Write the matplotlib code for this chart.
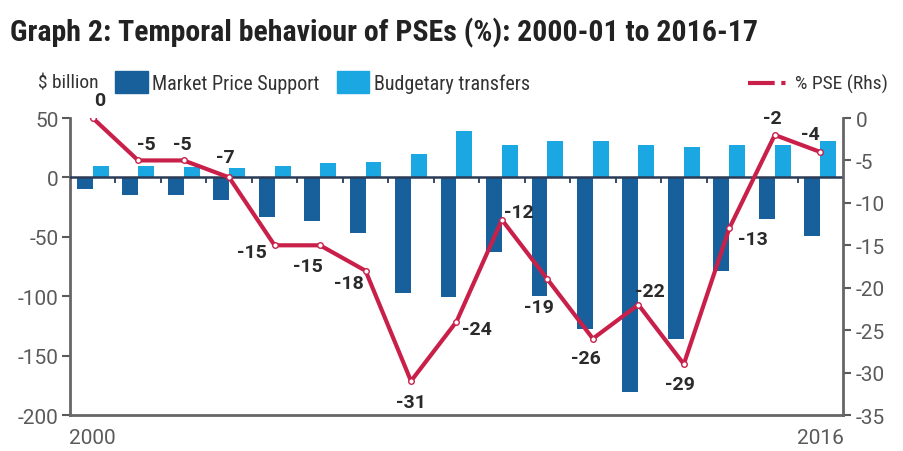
import numpy as np
import matplotlib
matplotlib.use("Agg")
import matplotlib.pyplot as plt
from matplotlib import font_manager
from matplotlib.patches import Rectangle
from matplotlib.lines import Line2D

# data
years = list(range(2000, 2017))
market_price_support = [-10, -15, -15, -19, -33, -37, -47, -97, -101, -63,
                        -100, -128, -181, -136, -79, -35, -49]
budgetary_transfers = [10, 10, 9, 8, 10, 12, 13, 20, 39, 27,
                       31, 31, 27, 26, 27, 27, 31]
pse_pct = [0, -5, -5, -7, -15, -15, -18, -31, -24, -12,
           -19, -26, -22, -29, -13, -2, -4]

# label offsets in points (position only, not data)
label_offsets = [(5, 13), (6, 12), (-1, 12), (-3, 15), (-16, -5), (-9, -15),
                 (-12, -9), (0, -15), (15, -5), (12, 6), (-6, -20), (-5, -14),
                 (8, 10), (-3, -14), (17, -8), (-2, 12), (-7, 13)]

names = {f.name for f in font_manager.fontManager.ttflist}
prefs = ["Roboto Condensed", "Liberation Sans Narrow", "Open Sans Condensed", "Roboto"]
narrow = next((p for p in prefs if p in names), "DejaVu Sans")
wide = "Roboto" if "Roboto" in names else "DejaVu Sans"
plt.rcParams["font.family"] = [narrow, "DejaVu Sans"]
plt.rcParams["axes.unicode_minus"] = False

mps_color = "#17609c"
bt_color = "#1ba7e1"
pse_color = "#c9204a"
gray = "#5a5a5a"
zero_color = "#2b3a55"

fig = plt.figure(figsize=(9.04, 4.52), dpi=100)
ax = fig.add_axes([0.0774, 0.0796, 0.8551, 0.6571])

x = np.arange(len(years))
w = 0.35
ax.bar(x - w / 2, market_price_support, w, color=mps_color, zorder=2)
ax.bar(x + w / 2, budgetary_transfers, w, color=bt_color, zorder=2)

# zero line with small ticks between years
ax.axhline(0, color=zero_color, lw=1.8, zorder=3)
ax.vlines(x[:-1] + 0.5, -5, 0, color=zero_color, lw=1.3, zorder=3)

ax.set_xlim(-0.5, len(years) - 0.5)
ax.set_ylim(-200, 50)
ax.set_yticks(np.arange(-200, 51, 50))
ax.tick_params(axis="y", colors=gray, labelsize=15, length=6, width=1.5, pad=2)
ax.set_xticks([0, len(years) - 1])
ax.set_xticklabels([str(years[0]), str(years[-1])])
ax.tick_params(axis="x", length=0, colors=gray, labelsize=15, pad=9)
for lbl in ax.get_xticklabels() + ax.get_yticklabels():
    lbl.set_family([wide, "DejaVu Sans"])
for s in ["top", "right"]:
    ax.spines[s].set_visible(False)
for s in ["left", "bottom"]:
    ax.spines[s].set_color("#666666")
    ax.spines[s].set_linewidth(2)

ax2 = ax.twinx()
ax2.set_ylim(-35, 0)
ax2.set_yticks(np.arange(-35, 1, 5))
ax2.tick_params(axis="y", colors=gray, labelsize=15, length=6, width=1.5, pad=3)
for lbl in ax2.get_yticklabels():
    lbl.set_family([wide, "DejaVu Sans"])
for s in ["top", "left", "bottom"]:
    ax2.spines[s].set_visible(False)
ax2.spines["right"].set_color("#666666")
ax2.spines["right"].set_linewidth(2)

ax2.plot(x, pse_pct, color=pse_color, lw=3, marker="o", ms=4,
         mfc="white", mec=pse_color, mew=1, zorder=3)
for xi, v, off in zip(x, pse_pct, label_offsets):
    ax2.annotate(str(v), (xi, v), xytext=off, textcoords="offset points",
                 ha="center", va="center", fontsize=14, fontweight="bold",
                 color="#2a2a2a", family=[wide, "DejaVu Sans"])

# title
fig.text(0.011, 0.928, "Graph 2: Temporal behaviour of PSEs (%): 2000-01 to 2016-17",
         fontsize=21.5, fontweight="bold", color="#222222", va="center", ha="left")

# legend row
ly = 1 - 84 / 452
fig.text(38 / 904, ly, "$ billion", fontsize=14, color="#333333", va="center")
fig.add_artist(Rectangle((115 / 904, 1 - 94 / 452), 33 / 904, 22 / 452,
                         transform=fig.transFigure, color=mps_color))
fig.text(152 / 904, ly, "Market Price Support", fontsize=14.5, color="#333333", va="center")
fig.add_artist(Rectangle((337 / 904, 1 - 94 / 452), 32 / 904, 22 / 452,
                         transform=fig.transFigure, color=bt_color))
fig.text(374 / 904, ly, "Budgetary transfers", fontsize=14.5, color="#333333", va="center")
fig.add_artist(Line2D([748 / 904, 789 / 904], [ly, ly], transform=fig.transFigure,
                      color=pse_color, lw=3, ls="-."))
fig.text(795 / 904, ly, "% PSE (Rhs)", fontsize=14, color="#333333", va="center")

fig.savefig("out.png", dpi=100)
